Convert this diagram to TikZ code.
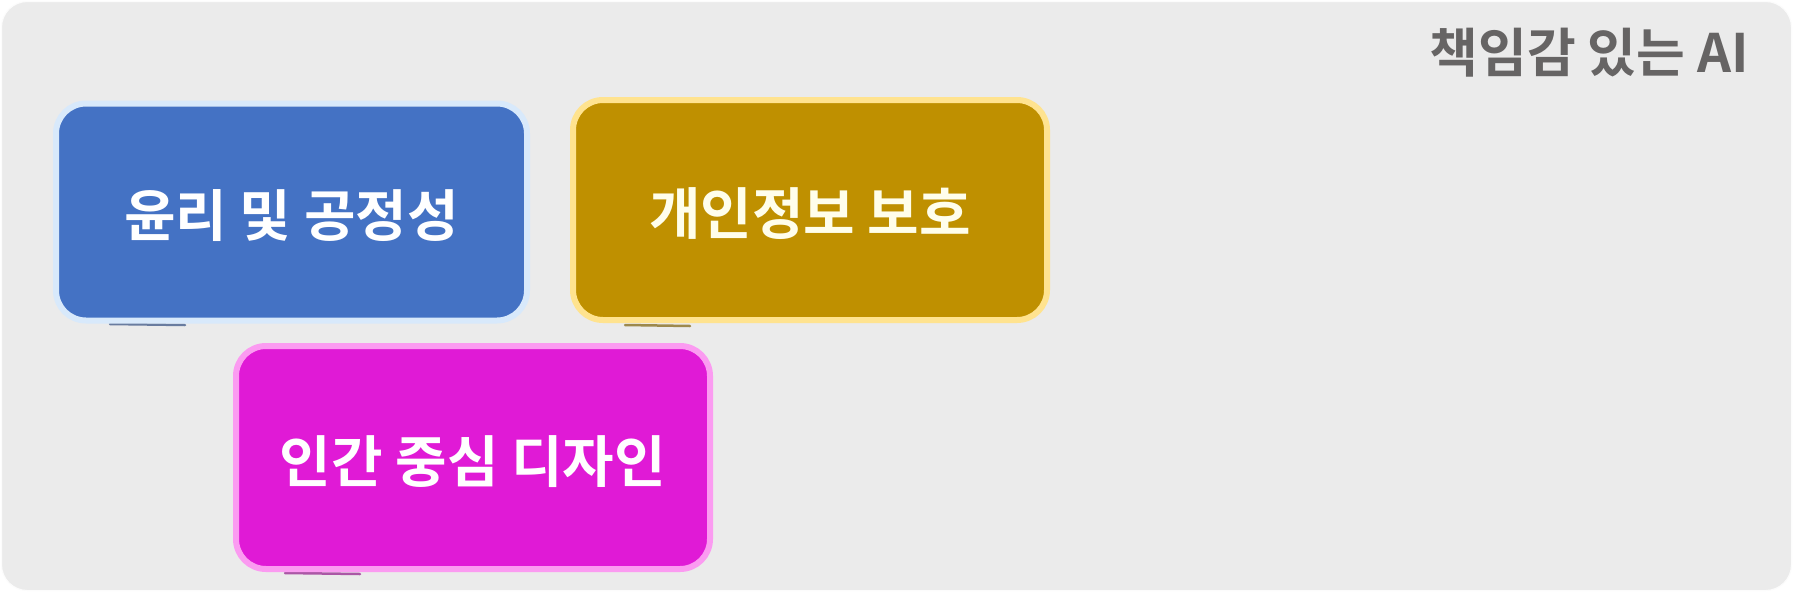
\documentclass[tikz,border=0pt]{standalone}
\usepackage{fontspec}
\newfontfamily\krbold{Noto Sans CJK KR Bold}
\definecolor{bgcol}{HTML}{EBEBEB}
\definecolor{bluefill}{HTML}{4472C4}
\definecolor{blueedge}{HTML}{D8E9FB}
\definecolor{goldfill}{HTML}{BF9000}
\definecolor{goldedge}{HTML}{FFE38F}
\definecolor{magfill}{HTML}{E01AD6}
\definecolor{magedge}{HTML}{FB9BF1}
\definecolor{titlecol}{HTML}{666464}
\newcommand\lowtxt[1]{\raisebox{0pt}[\dimexpr\height+8pt\relax][\depth]{#1}}
\tikzset{
  card/.style={rounded corners=30pt, line width=6pt, inner sep=0pt,
    text=white, font=\krbold\fontsize{56}{66}\selectfont, align=center},
  shade/.style={line width=2.5pt, line cap=round},
}
\begin{document}
\begin{tikzpicture}[x=1pt,y=-1pt]
\useasboundingbox (0,0) rectangle (1793,592);
\fill[white] (0,0) rectangle (1793,592);
\node[draw=white!85!bgcol, line width=1pt, fill=bgcol, rounded corners=26pt,
  minimum width=1790pt, minimum height=589pt, inner sep=0pt] (bg) at (896.5,296) {};
\node[anchor=east, inner sep=0pt, text=titlecol, font=\krbold\fontsize{53}{62}\selectfont] (title) at (1749,52.5) {책임감 있는 AI};
% shadows under cards
\coordinate (bsa) at (110,324); \coordinate (bsb) at (185,325);
\draw[shade, bluefill!60!black!70] (bsa) -- (bsb);
\coordinate (gsa) at (625,325); \coordinate (gsb) at (690,326);
\draw[shade, goldfill!60!black!70] (gsa) -- (gsb);
\coordinate (msa) at (285,573); \coordinate (msb) at (360,574);
\draw[shade, magfill!60!black!70] (msa) -- (msb);
\node[card, draw=blueedge, fill=bluefill, minimum width=471pt, minimum height=217pt] (ethics) at (291.5,212) {\lowtxt{윤리 및 공정성}};
\node[card, draw=goldedge, fill=goldfill, minimum width=474pt, minimum height=220pt, text=white!92!yellow] (privacy) at (810,210) {\lowtxt{개인정보 보호}};
\node[card, draw=magedge, fill=magfill, minimum width=474pt, minimum height=223pt] (human) at (473,457.5) {\lowtxt{인간 중심 디자인}};
\end{tikzpicture}
\end{document}
